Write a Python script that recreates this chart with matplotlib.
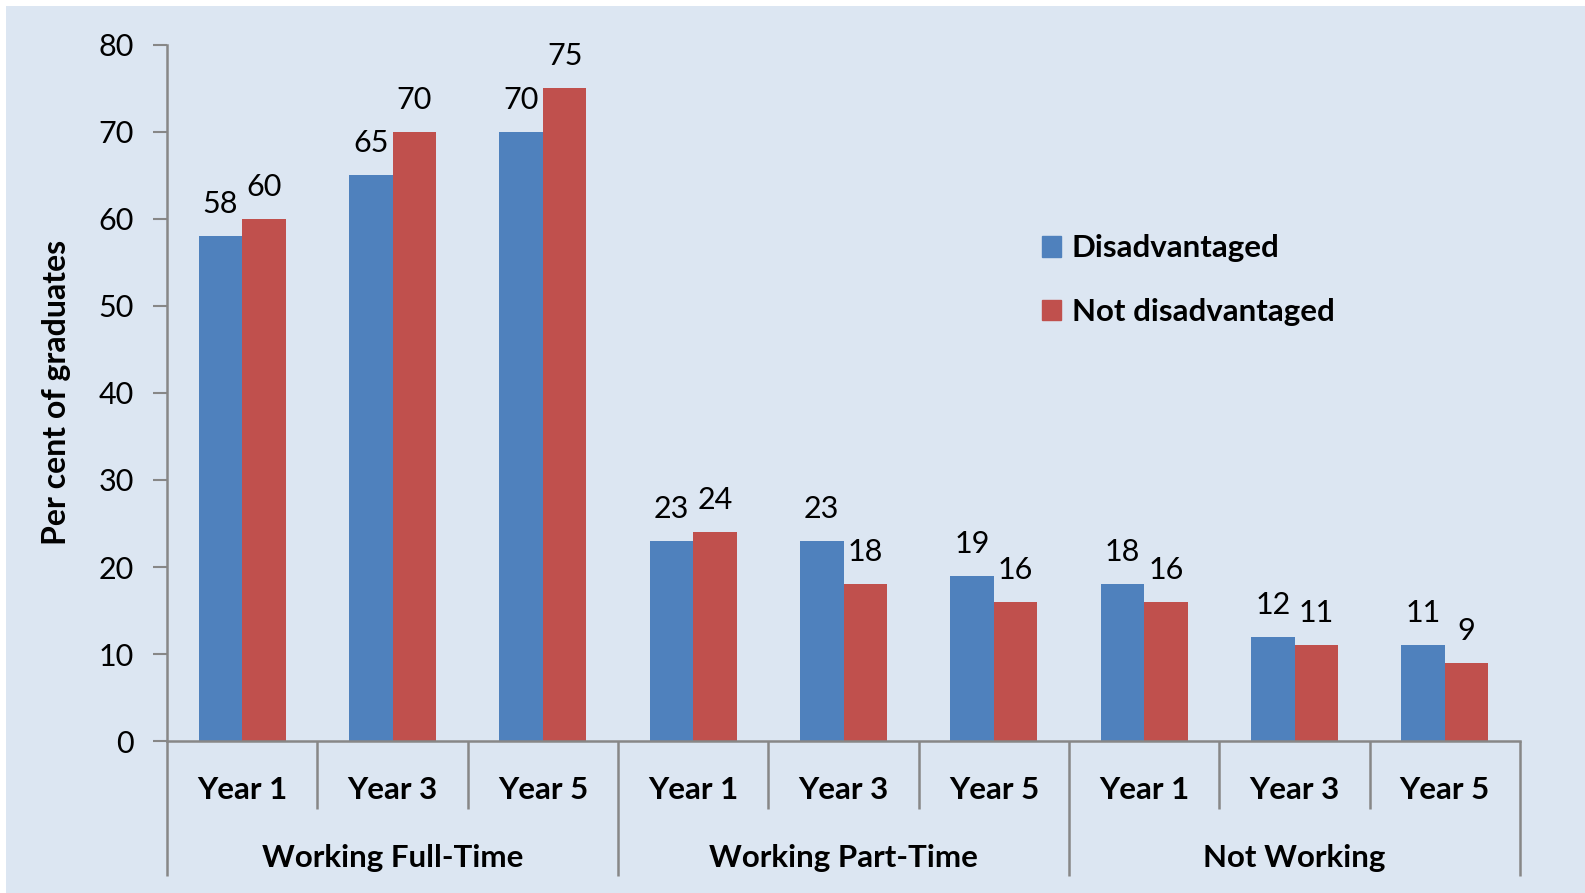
import matplotlib
matplotlib.use('Agg')
import matplotlib.pyplot as plt
import matplotlib.transforms as mtransforms
from matplotlib.patches import Rectangle, Patch

plt.rcParams['font.family'] = ['Lato', 'DejaVu Sans']

groups = ['Working Full-Time', 'Working Part-Time', 'Not Working']
years = ['Year 1', 'Year 3', 'Year 5']
disadvantaged = [58, 65, 70, 23, 23, 19, 18, 12, 11]
not_disadvantaged = [60, 70, 75, 24, 18, 16, 16, 11, 9]

BLUE = '#4f81bd'
RED = '#c0504d'
BG = '#dce6f2'
AXIS = '#878787'

fig = plt.figure(figsize=(15.85, 8.93), dpi=100, facecolor='white')
fig.patches.append(Rectangle((6 / 1585, 0), 1, 1 - 6 / 893, transform=fig.transFigure,
                             facecolor=BG, edgecolor='none', zorder=-10))
ax = fig.add_axes([0.1054, 0.170, 0.8536, 0.780])
ax.set_facecolor('none')

n = len(disadvantaged)
w = 0.29
centers = [i + 0.5 for i in range(n)]
b1 = ax.bar([c - w / 2 for c in centers], disadvantaged, w, color=BLUE)
b2 = ax.bar([c + w / 2 for c in centers], not_disadvantaged, w, color=RED)

for bars, vals in ((b1, disadvantaged), (b2, not_disadvantaged)):
    for rect, v in zip(bars, vals):
        ax.annotate(str(v), (rect.get_x() + rect.get_width() / 2, v),
                    xytext=(0, 13), textcoords='offset points',
                    ha='center', va='bottom', fontsize=22)

ax.set_xlim(0, n)
ax.set_ylim(0, 80)
ax.set_yticks(range(0, 81, 10))
ax.tick_params(axis='y', labelsize=22, length=10, width=1.5, color=AXIS, pad=14)
ax.set_xticks([])
for s in ('top', 'right'):
    ax.spines[s].set_visible(False)
for s in ('left', 'bottom'):
    ax.spines[s].set_color(AXIS)
    ax.spines[s].set_linewidth(1.8)

# two-level category axis drawn below the plot
trans = mtransforms.blended_transform_factory(ax.transData, ax.transAxes)
for i in range(n + 1):
    bottom = -0.194 if i % 3 == 0 else -0.0976
    ax.plot([i, i], [0, bottom], transform=trans, color=AXIS, lw=1.8,
            clip_on=False, solid_capstyle='butt')
for i in range(n):
    ax.text(i + 0.5, -0.070, years[i % 3], transform=trans, ha='center',
            va='center', fontsize=22.5, fontweight='bold')
for g, name in enumerate(groups):
    ax.text(g * 3 + 1.5, -0.168, name, transform=trans, ha='center',
            va='center', fontsize=22.5, fontweight='bold')

ax.set_ylabel('Per cent of graduates', fontsize=23, fontweight='bold', labelpad=20)

handles = [Patch(color=BLUE, label='Disadvantaged'),
           Patch(color=RED, label='Not disadvantaged')]
ax.legend(handles=handles, frameon=False, prop={'size': 22.5, 'weight': 'bold'},
          handlelength=0.62, handleheight=0.62, handletextpad=0.35, labelspacing=1.13,
          loc='upper left', bbox_to_anchor=(1029 / 1585, 1 - 222 / 893),
          bbox_transform=fig.transFigure, borderaxespad=0)

fig.savefig('out.png', dpi=100, facecolor=fig.get_facecolor())
